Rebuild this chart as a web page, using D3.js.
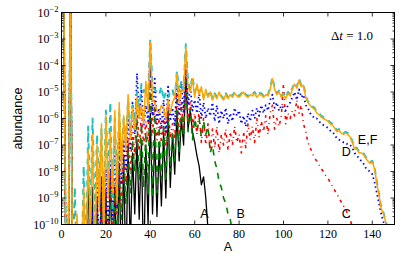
<!DOCTYPE html>
<html>
<head>
<meta charset="utf-8">
<script src="https://cdn.jsdelivr.net/npm/d3@7"></script>
<style>
  body { margin: 0; background: #fff; }
  svg { display: block; }
</style>
</head>
<body>
<div id="chart"></div>
<script>
// log10 of the abundance, one value per mass number A = 1, 2, 3, ...
const seriesA = [-1,-12,-12,-1,-12,-12,-12,-12,-12,-12,
  -12,-8.1,-12,-8.6,-12,-9.0,-12,-8.2,-12,-8.8,
  -12,-8.0,-12,-8.6,-12,-7.7,-12,-7.5,-12,-7.0,
  -11,-7.3,-9.6,-6.8,-9.8,-6.9,-12,-7.0,-10.0,-5.8,
  -9.6,-6.6,-9.7,-7.0,-9.3,-6.5,-9.0,-5.7,-8.6,-6.6,
  -8.1,-5.8,-7.6,-6.0,-7.0,-4.4,-6.4,-5.7,-6.5,-6.9,
  -7.4,-7.8,-8.5,-8.2,-9.0,-10.2];

const seriesB = [-1,-12,-12,-1,-12,-12,-12,-12,-12,-12,
  -12,-12,-12,-12,-12,-9.5,-12,-9.0,-12,-9.3,
  -12,-8.4,-11,-8.8,-10.3,-8.0,-9.8,-7.6,-9.2,-7.2,
  -8.8,-6.8,-8.0,-6.0,-8.3,-6.2,-8.6,-6.5,-8.9,-3.8,
  -9.0,-5.6,-8.8,-6.3,-8.3,-6.2,-8.4,-5.8,-8.0,-6.5,
  -7.6,-5.3,-7.3,-5.6,-6.7,-4.2,-6.5,-5.6,-6.8,-6.0,
  -6.5,-6.0,-6.7,-6.1,-6.6,-6.3,-7.3,-7.0,-7.6,-7.9,
  -8.4,-8.6,-9.0,-9.2,-9.6,-9.8,-10.3];

const seriesC = [-1,-12,-12,-1,-12,-12,-12,-12,-12,-12,
  -12,-12,-12,-10.5,-12,-9.0,-12,-8.5,-12,-8.6,
  -11,-7.9,-10.5,-8.3,-9.6,-7.4,-9.3,-7.0,-8.5,-6.7,
  -8.0,-6.3,-7.4,-5.4,-7.2,-5.8,-7.0,-6.1,-6.9,-3.6,
  -6.6,-5.3,-6.8,-6.0,-6.9,-5.9,-7.0,-5.5,-6.7,-6.2,
  -6.8,-5.0,-6.6,-5.3,-6.4,-3.9,-6.1,-5.3,-6.3,-5.8,
  -6.6,-5.7,-6.9,-6.0,-7.0,-6.2,-7.2,-6.4,-7.1,-6.3,
  -7.3,-6.6,-7.0,-6.4,-7.2,-6.5,-7.0,-6.3,-6.9,-6.6,
  -7.3,-6.5,-7.1,-6.2,-6.8,-6.3,-6.9,-6.0,-6.7,-6.1,
  -6.5,-5.9,-6.6,-5.8,-5.5,-6.4,-6.0,-6.3,-5.9,-4.7,
  -6.2,-5.8,-6.0,-5.7,-5.9,-5.3,-5.8,-5.5,-6.2,-6.5,
  -6.9,-7.1,-7.3,-7.5,-7.6,-7.75,-7.9,-8.0,-8.15,-8.25,
  -8.4,-8.55,-8.7,-8.85,-9.0,-9.15,-9.3,-9.45,-9.6,-9.8,
  -10.1];

const seriesD = [-1,-12,-12,-1,-12,-12,-12,-12,-12,-12,
  -12,-12,-12,-9.5,-12,-8.2,-12,-8.8,-12,-7.9,
  -10.5,-7.6,-9.8,-7.0,-9.4,-6.6,-8.5,-6.8,-8.0,-5.9,
  -7.2,-5.4,-6.6,-4.3,-6.0,-4.9,-6.3,-5.5,-6.1,-3.3,
  -5.9,-4.5,-6.2,-5.6,-6.4,-5.3,-6.5,-4.8,-6.1,-5.6,
  -6.3,-4.5,-5.9,-4.6,-5.8,-3.5,-5.5,-4.8,-5.7,-5.3,
  -5.8,-5.0,-6.0,-5.4,-6.0,-5.6,-5.9,-5.4,-6.1,-5.5,
  -6.2,-5.7,-6.0,-5.6,-6.2,-5.8,-6.1,-5.6,-5.9,-5.7,
  -6.2,-5.9,-6.3,-5.8,-6.1,-5.7,-6.0,-5.6,-5.9,-5.5,
  -5.8,-5.5,-5.7,-5.3,-5.1,-5.6,-5.4,-5.7,-5.5,-5.6,
  -5.7,-5.5,-5.4,-5.2,-5.0,-5.3,-4.9,-5.2,-5.1,-5.5,
  -5.6,-5.8,-5.9,-6.0,-6.0,-6.1,-6.2,-6.25,-6.3,-6.35,
  -6.45,-6.5,-6.6,-6.75,-6.8,-6.85,-6.9,-6.9,-7.0,-7.0,
  -7.1,-7.3,-7.4,-7.5,-7.6,-7.7,-7.85,-7.95,-8.0,-8.1,
  -8.4,-8.8,-9.2,-9.6,-9.9,-10.3];

const seriesE = [-1,-12,-12,-1,-12,-8.6,-12,-12,-12,-7.8,
  -12,-6.3,-9.8,-6.0,-10.0,-6.6,-8.5,-6.4,-9.5,-5.7,
  -8.6,-5.4,-9.5,-6.0,-8.4,-5.8,-7.6,-6.0,-7.0,-5.3,
  -6.5,-5.5,-6.1,-5.0,-5.7,-4.7,-5.0,-4.9,-5.2,-3.0,
  -4.8,-4.9,-5.0,-5.1,-4.8,-5.3,-5.0,-5.2,-5.0,-4.9,
  -5.3,-4.2,-5.0,-4.6,-4.9,-3.2,-4.6,-4.9,-4.4,-5.0,
  -4.8,-5.0,-4.9,-5.2,-5.0,-5.15,-4.95,-5.25,-5.05,-5.2,
  -5.05,-5.15,-5.25,-5.05,-5.2,-5.05,-5.15,-5.0,-5.1,-5.15,
  -5.05,-4.95,-5.1,-5.15,-5.05,-5.1,-5.0,-5.15,-5.05,-5.05,
  -5.15,-5.05,-5.1,-4.85,-4.45,-4.85,-5.05,-4.95,-5.15,-5.05,
  -5.2,-5.0,-5.1,-4.85,-4.65,-4.8,-4.5,-4.75,-4.7,-5.15,
  -5.35,-5.45,-5.55,-5.6,-5.75,-5.8,-5.9,-5.95,-6.0,-6.05,
  -6.15,-6.2,-6.3,-6.45,-6.4,-6.5,-6.55,-6.5,-6.55,-6.65,
  -6.85,-7.1,-7.1,-7.25,-7.25,-7.3,-7.45,-7.55,-7.65,-7.6,
  -7.85,-8.35,-8.85,-9.35,-9.55,-9.85,-10.2,-10.5];

const seriesF = [-1,-12,-12,-1,-12,-12,-9.6,-12,-12,-8.6,
  -12,-7.2,-10.5,-6.6,-12,-7.0,-9.5,-6.2,-10.8,-5.9,
  -9.0,-6.5,-8.8,-5.7,-9.2,-5.4,-8.0,-5.9,-7.2,-5.1,
  -6.8,-5.6,-6.4,-5.2,-6.0,-5.5,-6.2,-4.6,-5.7,-3.1,
  -5.3,-5.4,-5.7,-5.8,-5.5,-5.6,-6.0,-5.3,-5.8,-5.4,
  -5.2,-4.3,-5.4,-4.9,-5.0,-3.3,-4.8,-5.0,-4.5,-5.2,
  -4.7,-5.1,-4.8,-5.3,-4.9,-5.2,-5.0,-5.3,-5.1,-5.25,
  -5.0,-5.2,-5.3,-5.1,-5.25,-5.1,-5.2,-5.05,-5.15,-5.2,
  -5.1,-5.0,-5.15,-5.2,-5.1,-5.15,-5.05,-5.2,-5.1,-5.1,
  -5.2,-5.1,-5.15,-4.9,-4.5,-4.9,-5.1,-5.0,-5.2,-5.1,
  -5.25,-5.05,-5.15,-4.9,-4.7,-4.85,-4.55,-4.8,-4.75,-5.2,
  -5.4,-5.5,-5.6,-5.65,-5.8,-5.85,-5.95,-6.0,-6.05,-6.1,
  -6.2,-6.25,-6.35,-6.5,-6.45,-6.55,-6.6,-6.55,-6.6,-6.7,
  -6.9,-7.15,-7.15,-7.3,-7.3,-7.35,-7.5,-7.6,-7.7,-7.65,
  -7.9,-8.4,-8.9,-9.4,-9.6,-9.9,-10.3];

const xTicks = [0, 20, 40, 60, 80, 100, 120, 140];
const yTicks = [-10, -9, -8, -7, -6, -5, -4, -3, -2];

const curveLabels = [
  { text: 'A', A: 62.5, v: -9.75 },
  { text: 'B', A: 78.8, v: -9.75 },
  { text: 'C', A: 126.2, v: -9.75 },
  { text: 'D', A: 126.2, v: -7.4 },
  { text: 'E,F', A: 133.5, v: -6.95 }
];

const width = 407, height = 271;
const margin = { top: 12.5, right: 12.5, bottom: 46.5, left: 61.5 };

const svg = d3.select('#chart')
  .append('svg')
  .attr('width', width)
  .attr('height', height);

const x = d3.scaleLinear()
  .domain([0, 150])
  .range([margin.left, width - margin.right]);

const y = d3.scaleLog()
  .domain([1e-10, 1e-2])
  .range([height - margin.bottom, margin.top]);

svg.append('defs')
  .append('clipPath')
  .attr('id', 'clip')
  .append('rect')
  .attr('x', margin.left)
  .attr('y', margin.top)
  .attr('width', x.range()[1] - margin.left)
  .attr('height', y.range()[0] - margin.top);

const series = [
  { data: seriesA, color: '#000000', dash: null, width: 1.3 },
  { data: seriesB, color: '#008000', dash: '6,6', width: 1.6 },
  { data: seriesC, color: '#ff0000', dash: '3,4,1,4', width: 1.6 },
  { data: seriesD, color: '#0000ff', dash: '1.5,3', width: 1.8 },
  { data: seriesE, color: '#1fbfbf', dash: '6,5', width: 2 },
  { data: seriesF, color: '#ffa500', dash: null, width: 1.5 }
];

const line = d3.line()
  .x((d, i) => x(i + 1))
  .y(d => y(Math.pow(10, d)));

const plot = svg.append('g').attr('clip-path', 'url(#clip)');

series.forEach(s => {
  plot.append('path')
    .datum(s.data)
    .attr('fill', 'none')
    .attr('stroke', s.color)
    .attr('stroke-width', s.width)
    .attr('stroke-dasharray', s.dash)
    .attr('stroke-linejoin', 'round')
    .attr('d', line);
});

// ticks pointing inward on all four sides
const x0 = x.range()[0], x1 = x.range()[1];
const y0 = y.range()[0], y1 = y.range()[1];
const ticks = svg.append('g').attr('stroke', '#000').attr('stroke-width', 0.8);

xTicks.forEach(t => {
  ticks.append('line').attr('x1', x(t)).attr('x2', x(t)).attr('y1', y0).attr('y2', y0 - 4);
  ticks.append('line').attr('x1', x(t)).attr('x2', x(t)).attr('y1', y1).attr('y2', y1 + 4);
});

yTicks.forEach(t => {
  const yy = y(Math.pow(10, t));
  ticks.append('line').attr('x1', x0).attr('x2', x0 + 4).attr('y1', yy).attr('y2', yy);
  ticks.append('line').attr('x1', x1).attr('x2', x1 - 4).attr('y1', yy).attr('y2', yy);
  if (t < -2) {
    d3.range(2, 10).forEach(m => {
      const ym = y(m * Math.pow(10, t));
      ticks.append('line').attr('x1', x0).attr('x2', x0 + 2).attr('y1', ym).attr('y2', ym);
      ticks.append('line').attr('x1', x1).attr('x2', x1 - 2).attr('y1', ym).attr('y2', ym);
    });
  }
});

svg.append('rect')
  .attr('x', x0)
  .attr('y', y1)
  .attr('width', x1 - x0)
  .attr('height', y0 - y1)
  .attr('fill', 'none')
  .attr('stroke', '#000')
  .attr('stroke-width', 1);

const serif = '"Liberation Serif", "DejaVu Serif", serif';
const sans = '"Liberation Sans", Arial, sans-serif';

svg.append('g')
  .selectAll('text')
  .data(xTicks)
  .enter()
  .append('text')
  .attr('x', d => x(d))
  .attr('y', y0 + 13)
  .attr('text-anchor', 'middle')
  .style('font-family', serif)
  .style('font-size', '12px')
  .text(d => d);

const yLabels = svg.append('g')
  .selectAll('text')
  .data(yTicks)
  .enter()
  .append('text')
  .attr('x', x0 - 3)
  .attr('y', d => y(Math.pow(10, d)) + 4)
  .attr('text-anchor', 'end')
  .style('font-family', serif)
  .style('font-size', '12px');
yLabels.append('tspan').text('10');
yLabels.append('tspan')
  .attr('dy', -5)
  .style('font-size', '8.5px')
  .text(d => '\u2212' + Math.abs(d));

svg.append('text')
  .attr('transform', `translate(22, ${(y0 + y1) / 2}) rotate(-90)`)
  .attr('text-anchor', 'middle')
  .style('font-family', sans)
  .style('font-size', '12.5px')
  .text('abundance');

svg.append('text')
  .attr('x', (x0 + x1) / 2)
  .attr('y', 251)
  .attr('text-anchor', 'middle')
  .style('font-family', sans)
  .style('font-size', '12.5px')
  .text('A');

const dt = svg.append('text')
  .attr('x', 373)
  .attr('y', 40)
  .attr('text-anchor', 'end')
  .style('font-family', serif)
  .style('font-size', '13px');
dt.append('tspan').text('\u0394');
dt.append('tspan').style('font-style', 'italic').text('t');
dt.append('tspan').text(' = 1.0');

svg.append('g')
  .selectAll('text')
  .data(curveLabels)
  .enter()
  .append('text')
  .attr('x', d => x(d.A))
  .attr('y', d => y(Math.pow(10, d.v)))
  .style('font-family', sans)
  .style('font-size', '12.5px')
  .text(d => d.text);
</script>
</body>
</html>
